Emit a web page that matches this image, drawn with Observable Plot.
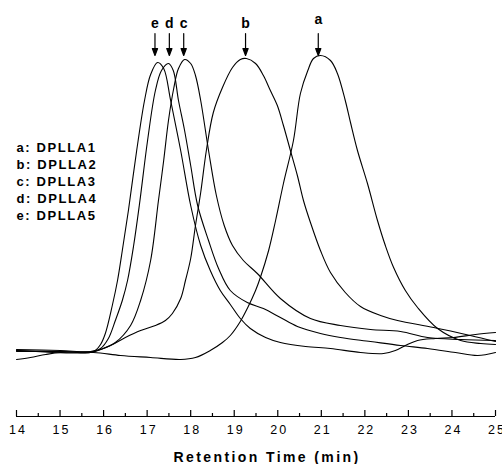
<!DOCTYPE html>
<html>
<head>
<meta charset="utf-8">
<script src="https://cdn.jsdelivr.net/npm/d3@7"></script>
<script src="https://cdn.jsdelivr.net/npm/@observablehq/plot@0.6"></script>
<style>
  html, body { margin: 0; padding: 0; background: #fff; }
  svg { display: block; }
</style>
</head>
<body>
<div id="chart"></div>
<script>
// Retention time (min) vs detector response (arbitrary units)
const seriesA = [[14.00,57],[14.32,59],[14.67,62],[15.01,64],[15.77,64],[16.39,61],[17.08,59],[17.77,57],[18.11,59],[18.45,66],[18.73,74],[18.91,81],[19.14,95],[19.30,108],[19.49,126],[19.60,139],[19.79,166],[19.95,196],[20.13,233],[20.36,276],[20.52,323],[20.69,346],[20.82,358],[20.98,361],[21.21,356],[21.37,343],[21.55,316],[21.67,294],[21.83,266],[22.06,233],[22.29,196],[22.47,171],[22.66,149],[22.93,126],[23.21,109],[23.67,88],[24.20,76],[24.66,73],[25.00,72]];
const seriesB = [[14.00,67],[15.01,66],[15.77,65],[16.16,71],[16.50,79],[16.85,86],[17.19,91],[17.42,96],[17.58,103],[17.77,118],[17.88,136],[18.00,158],[18.11,191],[18.23,224],[18.36,266],[18.52,304],[18.73,329],[18.96,349],[19.14,357],[19.28,358],[19.49,353],[19.67,341],[19.83,326],[19.99,311],[20.13,291],[20.29,266],[20.45,241],[20.59,216],[20.75,194],[20.98,166],[21.21,144],[21.55,124],[21.90,110],[22.36,101],[22.75,96],[23.58,89],[24.42,81],[25.00,75]];
const seriesC = [[14.00,66],[15.70,64],[15.93,67],[16.27,74],[16.62,91],[16.85,116],[17.08,156],[17.26,216],[17.38,256],[17.49,296],[17.61,328],[17.72,348],[17.86,357],[18.00,353],[18.11,341],[18.23,316],[18.41,266],[18.59,221],[18.77,191],[18.96,171],[19.21,156],[19.53,143],[20.06,118],[20.75,98],[21.44,91],[22.13,87],[22.82,85],[23.44,79],[24.20,77],[25.00,76]];
const seriesD = [[14.00,66],[15.01,65],[15.70,65],[15.93,68],[16.11,78],[16.27,96],[16.43,116],[16.55,136],[16.69,171],[16.82,211],[17.01,276],[17.19,326],[17.33,346],[17.49,353],[17.60,346],[17.72,316],[17.86,286],[18.00,251],[18.16,211],[18.41,176],[18.64,148],[18.91,126],[19.30,114],[19.67,108],[20.06,99],[20.45,90],[20.98,83],[21.44,79],[22.13,75],[22.82,71],[23.44,68],[24.08,64],[24.59,61],[25.00,64]];
const seriesE = [[14.00,65],[15.01,65],[15.70,64],[15.81,66],[15.93,72],[16.04,83],[16.20,111],[16.32,136],[16.43,166],[16.57,206],[16.76,266],[16.94,316],[17.08,342],[17.24,354],[17.38,348],[17.54,316],[17.77,266],[18.00,211],[18.23,171],[18.45,146],[18.68,126],[18.91,112],[19.14,98],[19.37,88],[19.72,79],[20.06,74],[20.64,70],[21.21,68],[21.90,64],[22.43,63],[22.70,66],[22.93,71],[23.21,76],[23.62,78],[24.03,79],[24.54,82],[25.00,84]];

const seriesKeys = ["a", "b", "c", "d", "e"];
const seriesNames = ["DPLLA1", "DPLLA2", "DPLLA3", "DPLLA4", "DPLLA5"];
const peakMarkTimes = [20.93, 19.26, 17.84, 17.51, 17.18];
const seriesData = [seriesA, seriesB, seriesC, seriesD, seriesE];

const majorTicks = [14, 15, 16, 17, 18, 19, 20, 21, 22, 23, 24, 25];
const minorTicks = [14.5, 15.5, 16.5, 17.5, 18.5, 19.5, 20.5, 21.5, 22.5, 23.5, 24.5];
const xTitle = "Retention Time (min)";

const rows = seriesData.flatMap((pts, i) => pts.map(([t, v]) => ({key: seriesKeys[i], t, v})));
const peaks = seriesKeys.map((k, i) => ({key: k, t: peakMarkTimes[i]}));
const legendText = seriesKeys.map((k, i) => `${k}: ${seriesNames[i]}`).join("\n");

const arrowShape = {
  draw(context, l) {
    const h = 7, w = 2.6;
    context.moveTo(0, 0);
    context.lineTo(0, -l + h);
    context.moveTo(-w, -l + h);
    context.lineTo(0, -l);
    context.lineTo(w, -l + h);
    context.closePath();
  }
};

const font = "'Liberation Sans', Arial, Helvetica, sans-serif";

const chart = Plot.plot({
  width: 502,
  height: 464,
  marginLeft: 16,
  marginRight: 7,
  marginTop: 0,
  marginBottom: 48,
  style: {fontFamily: font, background: "#fff", color: "#000"},
  x: {domain: [14, 25]},
  y: {domain: [0, 416], axis: null},
  marks: [
    Plot.ruleY([0], {stroke: "#000", strokeWidth: 1.2}),
    Plot.axisX({ticks: minorTicks, tickSize: -3, text: null, stroke: "#000", strokeWidth: 1.2, label: null}),
    Plot.axisX({ticks: majorTicks, tickSize: -6, text: null, stroke: "#000", strokeWidth: 1.2, label: null}),
    Plot.axisX({ticks: majorTicks, tickSize: 0, tickPadding: 9, dx: 1.5, fontSize: 12.5, fill: "#000", label: null, tickFormat: d => String(d)}),
    Plot.text([xTitle], {frameAnchor: "bottom", dy: 36, dx: 11, lineAnchor: "top", fontSize: 14, fontWeight: "bold", fill: "#000"}),
    Plot.line(rows, {x: "t", y: "v", z: "key", stroke: "#000", strokeWidth: 1.1, curve: "catmull-rom"}),
    Plot.vector(peaks, {x: "t", frameAnchor: "top", dy: 33, length: 22, rotate: 180, anchor: "start", shape: arrowShape, stroke: "#000", fill: "#000", strokeWidth: 1.2}),
    Plot.text(peaks.filter(d => d.key !== "a"), {x: "t", text: "key", frameAnchor: "top", dy: 27, lineAnchor: "bottom", fontSize: 14, fontWeight: "bold", fill: "#000"}),
    Plot.text(peaks.filter(d => d.key === "a"), {x: "t", text: "key", frameAnchor: "top", dy: 23, lineAnchor: "bottom", fontSize: 14, fontWeight: "bold", fill: "#000"}),
    Plot.text([legendText], {frameAnchor: "top-left", dy: 139, dx: 0, textAnchor: "start", lineAnchor: "top", lineHeight: 1.31, fontSize: 13, fontWeight: "bold", fill: "#000"})
  ]
});

// letter tracking, as in the original figure
chart.querySelectorAll("text").forEach(t => {
  const s = t.textContent;
  let ls = null;
  if (/^\d+$/.test(s)) ls = "2px";
  else if (s.startsWith("Retention")) ls = "2.4px";
  else if (s.includes("DPLLA")) ls = "1.6px";
  if (ls) { t.setAttribute("letter-spacing", ls); t.style.letterSpacing = ls; }
});
document.getElementById("chart").appendChild(chart);
</script>
</body>
</html>
